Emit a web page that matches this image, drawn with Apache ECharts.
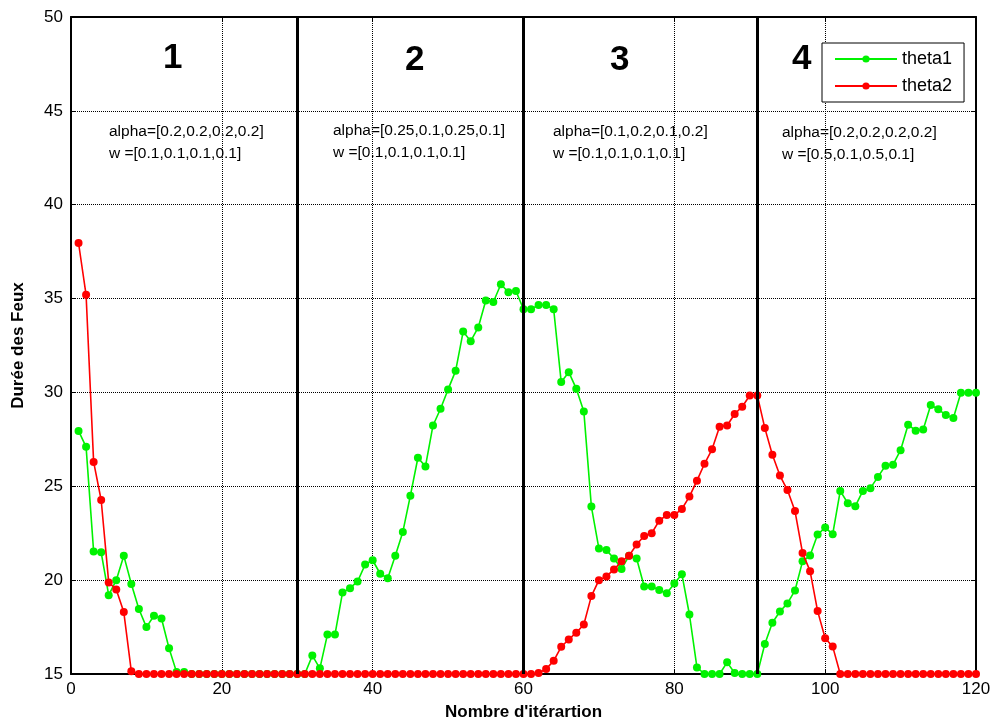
<!DOCTYPE html>
<html>
<head>
<meta charset="utf-8">
<script src="https://cdn.jsdelivr.net/npm/echarts@6/dist/echarts.min.js"></script>
<style>
html,body{margin:0;padding:0;background:#fff;}
#chart{width:997px;height:726px;}
</style>
</head>
<body>
<div id="chart"></div>
<script>
// ---- Data ----
var iterations = [];
for (var i = 1; i <= 120; i++) iterations.push(i);

var theta1 = [
  27.95, 27.1, 21.53, 21.48, 19.2, 20.0, 21.3, 19.8, 18.46, 17.5,
  18.1, 17.96, 16.37, 15.1, 15.1, 15, 15, 15, 15, 15,
  15, 15, 15, 15, 15, 15, 15, 15, 15, 15,
  15, 15.98, 15.3, 17.1, 17.1, 19.34, 19.57, 19.93, 20.83, 21.06,
  20.34, 20.1, 21.3, 22.57, 24.5, 26.52, 26.06, 28.24, 29.13, 30.16,
  31.15, 33.24, 32.73, 33.46, 34.9, 34.82, 35.76, 35.34, 35.4, 34.43,
  34.43, 34.66, 34.66, 34.43, 30.55, 31.08, 30.2, 28.99, 23.92, 21.68,
  21.6, 21.15, 20.6, 21.3, 21.15, 19.66, 19.66, 19.48, 19.3, 19.82,
  20.32, 18.17, 15.35, 15, 15, 15, 15.62, 15.05, 15, 15,
  15, 16.6, 17.73, 18.33, 18.76, 19.45, 21.0, 21.31, 22.43, 22.8,
  22.45, 24.75, 24.1, 23.94, 24.75, 24.9, 25.5, 26.1, 26.15, 26.92,
  28.28, 27.96, 28.03, 29.33, 29.1, 28.8, 28.64, 29.98, 29.98, 29.98
];

var theta2 = [
  37.96, 35.2, 26.3, 24.27, 19.88, 19.5, 18.3, 15.14, 15, 15,
  15, 15, 15, 15, 15, 15, 15, 15, 15, 15,
  15, 15, 15, 15, 15, 15, 15, 15, 15, 15,
  15, 15, 15, 15, 15, 15, 15, 15, 15, 15,
  15, 15, 15, 15, 15, 15, 15, 15, 15, 15,
  15, 15, 15, 15, 15, 15, 15, 15, 15, 15,
  15, 15.05, 15.27, 15.7, 16.45, 16.84, 17.2, 17.64, 19.15, 20.0,
  20.2, 20.57, 21.0, 21.3, 21.9, 22.35, 22.5, 23.17, 23.47, 23.47,
  23.79, 24.45, 25.3, 26.2, 26.97, 28.17, 28.24, 28.85, 29.24, 29.84,
  29.84, 28.1, 26.68, 25.57, 24.8, 23.68, 21.45, 20.48, 18.35, 16.9,
  16.46, 15, 15, 15, 15, 15, 15, 15, 15, 15,
  15, 15, 15, 15, 15, 15, 15, 15, 15, 15
];

var seriesNames = ['theta1', 'theta2'];
var sectionBounds = [30, 60, 91];
var sectionLabels = ['1', '2', '3', '4'];
var alphaTexts = ['alpha=[0.2,0.2,0.2,0.2]', 'alpha=[0.25,0.1,0.25,0.1]', 'alpha=[0.1,0.2,0.1,0.2]', 'alpha=[0.2,0.2,0.2,0.2]'];
var wTexts = ['w =[0.1,0.1,0.1,0.1]', 'w =[0.1,0.1,0.1,0.1]', 'w =[0.1,0.1,0.1,0.1]', 'w =[0.5,0.1,0.5,0.1]'];
var xTicks = [0, 20, 40, 60, 80, 100, 120];
var yTicks = [15, 20, 25, 30, 35, 40, 45, 50];

// ---- Layout ----
var FONT = 'Liberation Sans, Arial, sans-serif';
var GREEN = '#00f200';
var RED = '#ff0000';
var numPos = [[174, 59], [416, 61], [621, 61], [803, 60]];
var annPos = [[109, 133], [333, 132], [553, 133], [782, 134]];

var graphics = [];
for (var k = 0; k < 4; k++) {
  graphics.push({
    type: 'text', left: numPos[k][0] - 11, top: numPos[k][1] - 18, z: 10,
    style: { text: sectionLabels[k], font: 'bold 35px ' + FONT, fill: '#000' }
  });
  graphics.push({
    type: 'text', left: annPos[k][0], top: annPos[k][1] - 9, z: 10,
    style: { text: alphaTexts[k], font: '15.5px ' + FONT, fill: '#000' }
  });
  graphics.push({
    type: 'text', left: annPos[k][0], top: annPos[k][1] + 13, z: 10,
    style: { text: wTexts[k], font: '15.5px ' + FONT, fill: '#000' }
  });
}

var chart = echarts.init(document.getElementById('chart'), null, { renderer: 'canvas' });

function pairs(arr) {
  return arr.map(function (v, i) { return [iterations[i], v]; });
}

var option = {
  backgroundColor: '#fff',
  animation: false,
  textStyle: { fontFamily: FONT },
  grid: { left: 71, right: 21, top: 17, bottom: 50, containLabel: false },
  legend: {
    data: seriesNames,
    orient: 'vertical',
    left: 822, top: 43,
    width: 145,
    backgroundColor: '#fff',
    borderColor: '#000', borderWidth: 1,
    borderRadius: 0,
    padding: [7, 12, 7, 12],
    itemGap: 9,
    itemWidth: 62, itemHeight: 9,
    textStyle: { fontSize: 18, color: '#000', fontFamily: FONT },
    z: 20
  },
  xAxis: [{
    type: 'value', min: 0, max: 120, interval: 20,
    name: "Nombre d'itérartion", nameLocation: 'middle', nameGap: 30,
    nameTextStyle: { fontSize: 17, fontWeight: 'bold', color: '#000', fontFamily: FONT },
    axisLine: { onZero: false, lineStyle: { color: '#000', width: 2 } },
    axisTick: { inside: true, length: 5, lineStyle: { color: '#000' } },
    axisLabel: { fontSize: 17, color: '#000', margin: 7, fontFamily: FONT },
    splitLine: { show: true, lineStyle: { color: '#000', type: [1, 1], width: 1 } }
  }, {
    type: 'value', min: 0, max: 120, interval: 20, position: 'top',
    axisLine: { onZero: false, lineStyle: { color: '#000', width: 2 } },
    axisTick: { inside: true, length: 5, lineStyle: { color: '#000' } },
    axisLabel: { show: false }, splitLine: { show: false }
  }],
  yAxis: [{
    type: 'value', min: 15, max: 50, interval: 5,
    name: 'Durée des Feux', nameLocation: 'middle', nameGap: 44,
    nameTextStyle: { fontSize: 17, fontWeight: 'bold', color: '#000', fontFamily: FONT },
    axisLine: { onZero: false, lineStyle: { color: '#000', width: 2 } },
    axisTick: { inside: true, length: 5, lineStyle: { color: '#000' } },
    axisLabel: { fontSize: 17, color: '#000', margin: 8, fontFamily: FONT },
    splitLine: { show: true, lineStyle: { color: '#000', type: [1, 1], width: 1 } }
  }, {
    type: 'value', min: 15, max: 50, interval: 5, position: 'right',
    axisLine: { onZero: false, lineStyle: { color: '#000', width: 2 } },
    axisTick: { inside: true, length: 5, lineStyle: { color: '#000' } },
    axisLabel: { show: false }, splitLine: { show: false }
  }],
  series: [{
    name: seriesNames[0], type: 'line', data: pairs(theta1),
    color: GREEN,
    symbol: 'circle', symbolSize: 8, showAllSymbol: true,
    lineStyle: { color: GREEN, width: 1.6 },
    itemStyle: { color: GREEN },
    z: 3,
    markLine: {
      silent: true, symbol: ['none', 'none'], label: { show: false },
      lineStyle: { color: '#000', type: 'solid', width: 3 },
      data: sectionBounds.map(function (b) { return { xAxis: b }; })
    }
  }, {
    name: seriesNames[1], type: 'line', data: pairs(theta2),
    color: RED,
    symbol: 'circle', symbolSize: 8, showAllSymbol: true,
    lineStyle: { color: RED, width: 1.6 },
    itemStyle: { color: RED },
    z: 4
  }],
  graphic: graphics
};
chart.setOption(option);
</script>
</body>
</html>
